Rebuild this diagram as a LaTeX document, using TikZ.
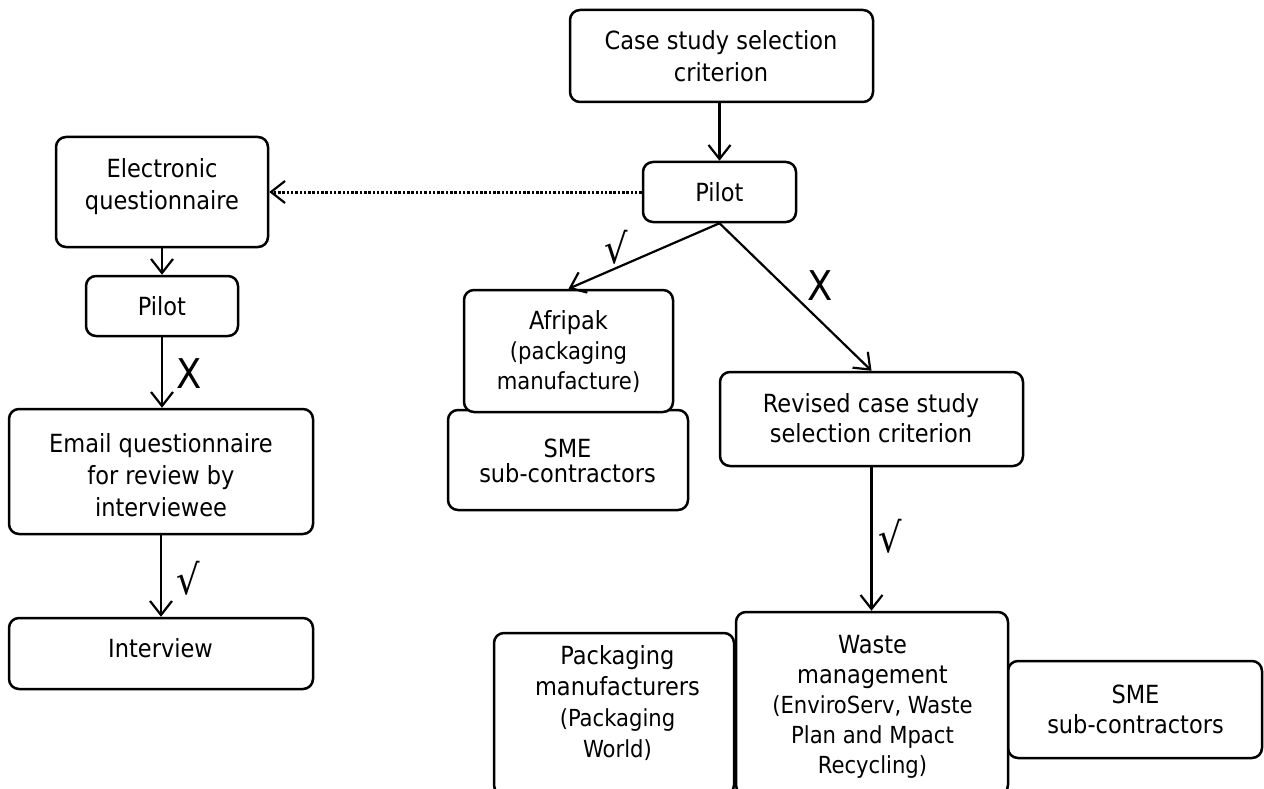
\documentclass[tikz,border=0pt]{standalone}
\usepackage{fontspec}
\setmainfont{DejaVu Sans Condensed}
\usetikzlibrary{arrows.meta}
\begin{document}
\begin{tikzpicture}[x=1pt,y=-1pt,
  card/.style={draw, line width=2.5pt, rounded corners=10pt, fill=white, inner sep=0pt},
  txt/.style={align=center, inner sep=0pt, font=\fontsize{25}{32}\selectfont},
  verdict/.style={inner sep=0pt, font=\fontsize{41}{41}\selectfont},
  flow/.style={line width=2.2pt, -{Straight Barb[length=14pt,width=22pt,line width=2.2pt]}},
  hint/.style={line width=3pt, line cap=butt, dash pattern=on 2.5pt off 1.8pt, -{Straight Barb[length=14pt,width=22pt,line width=2.2pt]}},
]
\newcommand{\smallpar}{\fontsize{23.5}{30}\selectfont}
\useasboundingbox (0,0) rectangle (1264,789);
\clip (0,0) rectangle (1264,789);

% right-hand branch: case study selection
\node[card, minimum width=303pt, minimum height=92pt] (crit) at (721.5,56) {};
\node[txt] (critT) at (721,56.5) {Case study selection\\criterion};
\node[card, minimum width=153pt, minimum height=60pt] (pilotR) at (719.5,192) {};
\node[txt] (pilotRT) at (719.5,192) {Pilot};

\node[card, minimum width=240pt, minimum height=100pt] (smeL) at (568,460) {};
\node[txt, font=\fontsize{25}{25}\selectfont] (smeLT) at (567.5,461) {SME\\sub-contractors};
\node[card, minimum width=209pt, minimum height=122pt] (afri) at (568.5,351) {};
\node[txt, font=\fontsize{25}{30}\selectfont] (afriT) at (568.5,352) {Afripak\\{\smallpar (packaging}\\{\smallpar manufacture)}};

\node[card, minimum width=303pt, minimum height=94pt] (rev) at (871.5,419) {};
\node[txt, font=\fontsize{25}{30}\selectfont] (revT) at (871,418) {Revised case study\\selection criterion};

\node[card, minimum width=240pt, minimum height=162pt] (pack) at (614,714) {};
\node[txt, font=\fontsize{25}{31}\selectfont] (packT) at (617.5,703.5) {Packaging\\manufacturers\\{\smallpar (Packaging}\\{\smallpar World)}};
\node[card, minimum width=254pt, minimum height=97pt] (smeR) at (1135,709.5) {};
\node[txt, font=\fontsize{25}{30}\selectfont] (smeRT) at (1135.5,709) {SME\\sub-contractors};
\node[card, minimum width=272pt, minimum height=183pt] (waste) at (872,703.5) {};
\node[txt, font=\fontsize{25}{30}\selectfont] (wasteT) at (872.5,707) {Waste\\management\\{\smallpar (EnviroServ, Waste}\\{\smallpar Plan and Mpact}\\{\smallpar Recycling)}};

% left-hand branch: questionnaire
\node[card, minimum width=212pt, minimum height=110pt] (elec) at (162,192) {};
\node[txt] (elecT) at (162,187) {Electronic\\questionnaire};
\node[card, minimum width=152pt, minimum height=60pt] (pilotL) at (162,306) {};
\node[txt] (pilotLT) at (162,306) {Pilot};
\node[card, minimum width=304pt, minimum height=125pt] (email) at (161,471.5) {};
\node[txt] (emailT) at (161,475) {Email questionnaire\\for review by\\interviewee};
\node[card, minimum width=304pt, minimum height=71pt] (intv) at (161,653.5) {};
\node[txt] (intvT) at (160.5,648) {Interview};

% connectors
\draw[flow] (pilotR.north |- crit.south) -- (pilotR.north);
\draw[hint] (pilotR.west) -- (elec.east);
\draw[flow] (elec.south) -- (pilotL.north);
\draw[flow] (pilotL.south) -- (pilotL.south |- email.north);
\draw[flow] (email.south) -- (intv.north);
\draw[flow] (pilotR.south) -- (afri.north);
\draw[flow] (pilotR.south) -- (rev.north);
\draw[flow] (rev.south) -- (rev.south |- waste.north);

% verdict marks
\node[verdict] (okA) at (616,247) {√};
\node[verdict] (noA) at (820,286) {X};
\node[verdict] (noB) at (189,374) {X};
\node[verdict] (okB) at (188,578) {√};
\node[verdict] (okC) at (890,536) {√};
\end{tikzpicture}
\end{document}
